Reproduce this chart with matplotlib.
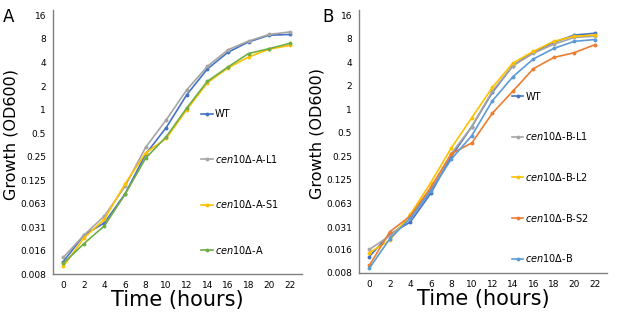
import numpy as np
import matplotlib
matplotlib.use('Agg')
import matplotlib.pyplot as plt
from matplotlib.lines import Line2D

# time points (hours)
hours = [0, 2, 4, 6, 8, 10, 12, 14, 16, 18, 20, 22]

# panel A, OD600
a_wt = [0.0115, 0.025, 0.036, 0.084, 0.27, 0.59, 1.55, 3.3, 5.4, 7.3, 8.9, 9.1]
a_l1 = [0.013, 0.025, 0.044, 0.105, 0.33, 0.74, 1.79, 3.56, 5.8, 7.5, 9.1, 9.8]
a_s1 = [0.010, 0.023, 0.040, 0.113, 0.28, 0.43, 1.0, 2.2, 3.4, 4.7, 5.9, 6.6]
a_del = [0.0109, 0.0195, 0.033, 0.083, 0.24, 0.45, 1.05, 2.3, 3.5, 5.2, 6.0, 7.0]

# panel B, OD600
b_wt = [0.013, 0.025, 0.036, 0.084, 0.25, 0.60, 1.64, 3.6, 5.4, 7.2, 8.9, 9.4]
b_l1 = [0.016, 0.024, 0.040, 0.095, 0.27, 0.60, 1.70, 3.6, 5.2, 6.8, 8.3, 8.6]
b_l2 = [0.0146, 0.021, 0.045, 0.115, 0.32, 0.78, 1.90, 3.9, 5.5, 7.4, 8.6, 8.9]
b_s2 = [0.010, 0.027, 0.043, 0.100, 0.27, 0.37, 0.89, 1.7, 3.3, 4.6, 5.3, 6.7]
b_del = [0.0092, 0.022, 0.040, 0.090, 0.23, 0.46, 1.28, 2.6, 4.4, 6.0, 7.4, 7.8]

ytick_vals = [0.008, 0.016, 0.031, 0.063, 0.125, 0.25, 0.5, 1, 2, 4, 8, 16]
ytick_labels = ['0.008', '0.016', '0.031', '0.063', '0.125', '0.25', '0.5', '1', '2', '4', '8', '16']

c_wt = '#4472C4'
c_gray = '#A5A5A5'
c_yel = '#FFC000'
c_grn = '#70AD47'
c_org = '#ED7D31'
c_lb = '#5B9BD5'

series_a = [
    (a_wt, c_wt, 'WT'),
    (a_l1, c_gray, r'$\it{cen10}$Δ-A-L1'),
    (a_s1, c_yel, r'$\it{cen10}$Δ-A-S1'),
    (a_del, c_grn, r'$\it{cen10}$Δ-A'),
]
series_b = [
    (b_wt, c_wt, 'WT'),
    (b_l1, c_gray, r'$\it{cen10}$Δ-B-L1'),
    (b_l2, c_yel, r'$\it{cen10}$Δ-B-L2'),
    (b_s2, c_org, r'$\it{cen10}$Δ-B-S2'),
    (b_del, c_lb, r'$\it{cen10}$Δ-B'),
]

fig = plt.figure(figsize=(6.17, 3.13), dpi=100)
ax_a = fig.add_axes([0.0859, 0.1246, 0.4036, 0.843])
ax_b = fig.add_axes([0.582, 0.1278, 0.402, 0.840])


def style(ax, series, leg_x, leg_y, spacing):
    for vals, col, lab in series:
        ax.plot(hours, vals, color=col, lw=1.2, marker='o', ms=1.8, label=lab)
    ax.set_yscale('log', base=2)
    ax.set_ylim(0.008, 18.6)
    ax.set_xlim(-1.0, 23.2)
    ax.set_yticks(ytick_vals)
    ax.set_yticklabels(ytick_labels)
    ax.minorticks_off()
    ax.set_xticks(hours)
    ax.tick_params(length=0, labelsize=6.5, pad=5)
    for s in ['top', 'right']:
        ax.spines[s].set_visible(False)
    for s in ['left', 'bottom']:
        ax.spines[s].set_color('#808080')
        ax.spines[s].set_linewidth(1.0)
    ax.set_xlabel('Time (hours)', fontsize=15, va='center')
    ax.xaxis.set_label_coords(0.5, -0.10)
    ax.set_ylabel('Growth (OD600)', fontsize=11.5, va='center')
    ax.yaxis.set_label_coords(-0.17, 0.53)
    handles = [Line2D([], [], color=c, lw=1.2, marker='o', ms=1.8) for _, c, _ in series]
    ax.legend(handles, [l for _, _, l in series], frameon=False, fontsize=7,
              loc='upper left', bbox_to_anchor=(leg_x, leg_y),
              handlelength=1.2, handletextpad=0.2, labelspacing=spacing,
              borderaxespad=0)


style(ax_a, series_a, 0.58, 0.64, 3.45)
style(ax_b, series_b, 0.60, 0.705, 2.95)

fig.text(0.004, 0.975, 'A', fontsize=12, va='top')
fig.text(0.522, 0.975, 'B', fontsize=12, va='top')

fig.savefig('out.png', dpi=100)
